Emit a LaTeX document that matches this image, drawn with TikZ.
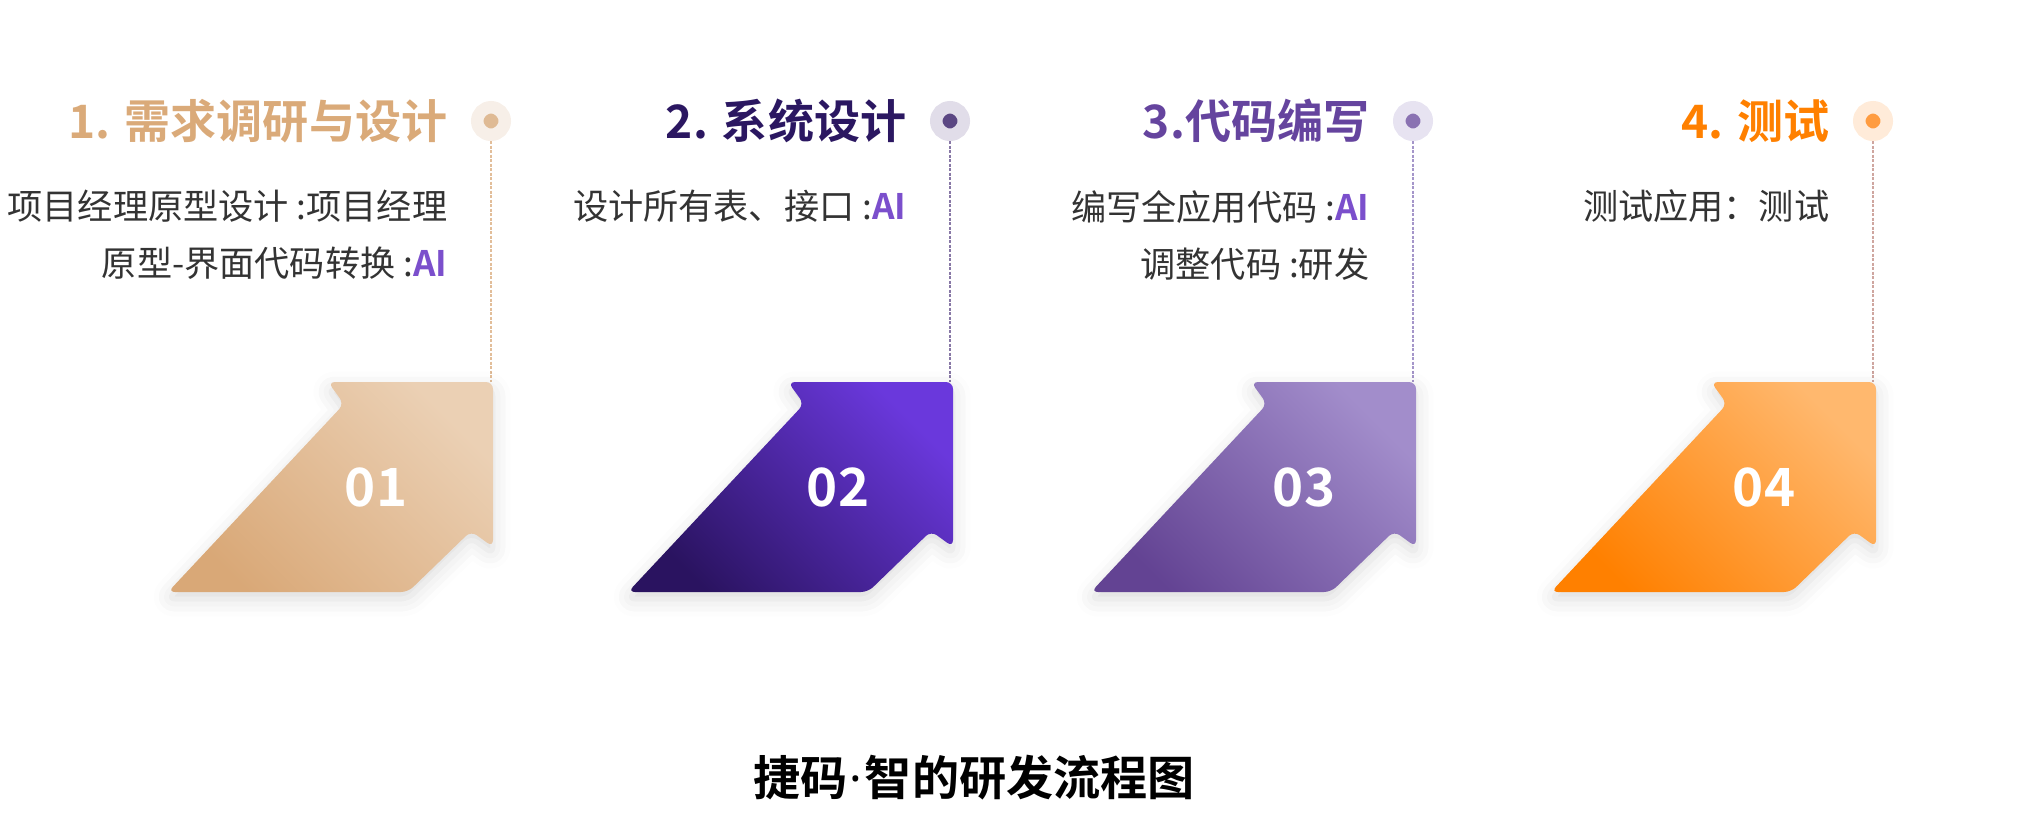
\documentclass[tikz,border=0pt]{standalone}
\usepackage{fontspec}
\setmainfont{Noto Sans CJK SC}[BoldFont={* Bold}]
\newfontfamily\dotfont{Noto Sans}
\usepackage{tikz}
\usetikzlibrary{positioning,calc,shadows.blur}
\definecolor{tanlow}{HTML}{D9A877}
\definecolor{tanhigh}{HTML}{EBD0B4}
\definecolor{tantitle}{HTML}{DAAA79}
\definecolor{tanring}{HTML}{F7EFE8}
\definecolor{tandot}{HTML}{DFBA94}
\definecolor{tanline}{HTML}{E2BE9A}
\definecolor{purlow}{HTML}{2A1360}
\definecolor{purhigh}{HTML}{6A38DC}
\definecolor{purtitle}{HTML}{2B1761}
\definecolor{purring}{HTML}{E1DDE9}
\definecolor{purdot}{HTML}{5B4783}
\definecolor{purline}{HTML}{8878A6}
\definecolor{lavlow}{HTML}{634393}
\definecolor{lavhigh}{HTML}{A28DCB}
\definecolor{lavtitle}{HTML}{65449E}
\definecolor{lavring}{HTML}{E7E3F1}
\definecolor{lavdot}{HTML}{8A72B2}
\definecolor{lavline}{HTML}{A596CA}
\definecolor{oralow}{HTML}{FF8000}
\definecolor{orahigh}{HTML}{FFB86E}
\definecolor{oratitle}{HTML}{FF8000}
\definecolor{oraring}{HTML}{FFEBD9}
\definecolor{oradot}{HTML}{FF9C40}
\definecolor{oraline}{HTML}{CFA6A0}
\definecolor{notegray}{HTML}{333333}
\definecolor{aiviolet}{HTML}{7B4FCC}

\begin{document}
\begin{tikzpicture}[
    x=0.01cm, y=-0.01cm,
    pin/.style={circle, inner sep=0pt, minimum size=0.275cm, line width=0.125cm},
    title/.style={inner sep=0pt, font=\bfseries\fontsize{13.1}{15}\selectfont},
    note/.style={inner sep=0pt, align=right, text=notegray, font=\fontsize{10}{16.2}\selectfont},
    num/.style={inner sep=0pt, text=white, font=\bfseries\fontsize{15}{18}\selectfont},
    leader/.style={line width=0.016cm, dash pattern=on 0.03cm off 0.015cm},
    arrowshape/.style={insert path={-- ++(0,165) -- ++(-22,-16) -- ++(-63,61) -- ++(-240,0) -- ++(176,-188) -- ++(-16,-22) -- cycle}},
    stepfill/.style 2 args={rounded corners=2pt, bottom color=#1, top color=#2, shading angle=-45,
        blur shadow={shadow xshift=0pt, shadow yshift=-2pt, shadow blur radius=5pt, shadow opacity=14}}
]
    \useasboundingbox (0,0) rectangle (2043,823);

    % Arrow corners
    \coordinate (top1) at (493,382);
    \coordinate (top2) at (953,382);
    \coordinate (top3) at (1416,382);
    \coordinate (top4) at (1876,382);

    % Pins
    \node[pin, fill=tandot, draw=tanring] (pin1) at (491,121) {};
    \node[pin, fill=purdot, draw=purring] (pin2) at (950,121) {};
    \node[pin, fill=lavdot, draw=lavring] (pin3) at (1413,121) {};
    \node[pin, fill=oradot, draw=oraring] (pin4) at (1873,121) {};

    % Leaders
    \draw[leader, draw=tanline] (pin1.south) -- (pin1.south |- top1);
    \draw[leader, draw=purline] (pin2.south) -- (pin2.south |- top2);
    \draw[leader, draw=lavline] (pin3.south) -- (pin3.south |- top3);
    \draw[leader, draw=oraline] (pin4.south) -- (pin4.south |- top4);

    % Step titles
    \node[title, text=tantitle, left=0.23cm of pin1] (title1) {1. 需求调研与设计};
    \node[title, text=purtitle, left=0.23cm of pin2] (title2) {2. 系统设计};
    \node[title, text=lavtitle, left=0.23cm of pin3] (title3) {3.代码编写};
    \node[title, text=oratitle, left=0.23cm of pin4] (title4) {4. 测试};

    % Notes
    \node[note, below=0.46cm of title1.south east, anchor=north east] (note1) {项目经理原型设计 :项目经理\\原型-界面代码转换 :\textcolor{aiviolet}{\textbf{AI}}};
    \node[note, below=0.46cm of title2.south east, anchor=north east] (note2) {设计所有表、接口 :\textcolor{aiviolet}{\textbf{AI}}};
    \node[note, below=0.46cm of title3.south east, anchor=north east] (note3) {编写全应用代码 :\textcolor{aiviolet}{\textbf{AI}}\\调整代码 :研发};
    \node[note, below=0.46cm of title4.south east, anchor=north east] (note4) {测试应用：测试};

    % Arrows
    \shade[stepfill={tanlow}{tanhigh}] (top1) [arrowshape];
    \shade[stepfill={purlow}{purhigh}] (top2) [arrowshape];
    \shade[stepfill={lavlow}{lavhigh}] (top3) [arrowshape];
    \shade[stepfill={oralow}{orahigh}] (top4) [arrowshape];

    \node[num] (num1) at ([shift={(-117,105)}]top1) {01};
    \node[num] (num2) at ([shift={(-115,105)}]top2) {02};
    \node[num] (num3) at ([shift={(-112,105)}]top3) {03};
    \node[num] (num4) at ([shift={(-112,105)}]top4) {04};

    % Caption
    \node[inner sep=0pt, font=\bfseries\fontsize{13.4}{16}\selectfont] (caption) at (974,778) {捷码\kern0.05em{\dotfont\bfseries ·}\kern0.05em 智的研发流程图};
\end{tikzpicture}
\end{document}
